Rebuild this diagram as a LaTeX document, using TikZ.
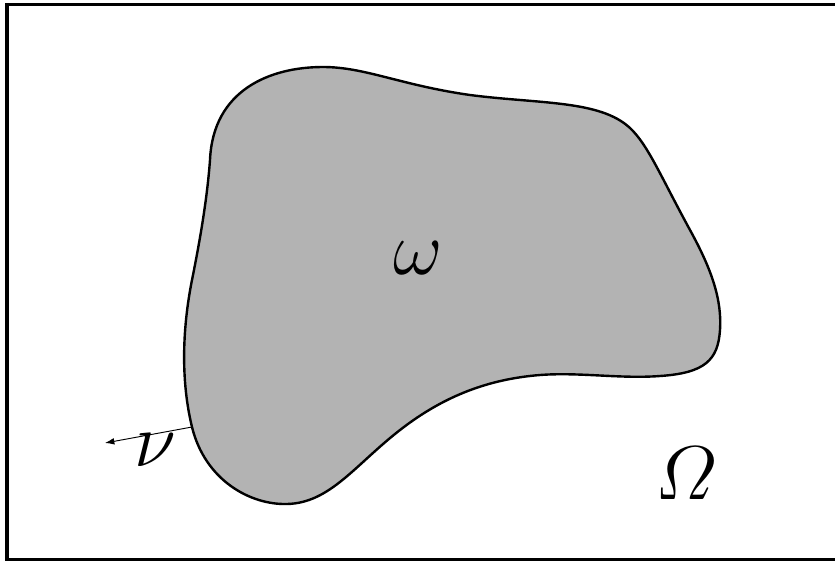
\documentclass[tikz,border=0pt]{standalone}
\usepackage{amsmath}
\usetikzlibrary{arrows.meta}
\definecolor{blobgray}{RGB}{179,179,179}
\tikzset{
  frame/.style={line width=2.3pt},
  blob/.style={fill=blobgray,draw=black,line width=1.8pt},
  normalarrow/.style={line width=0.7pt,-{Latex[length=7pt,width=5pt]}},
  biglabel/.style={inner sep=0pt,scale=2.3,font=\Huge}
}
\begin{document}
\begin{tikzpicture}[x=0.75pt,y=-0.75pt]
\useasboundingbox (0,0) rectangle (835,561);
\draw[frame] (7,4.5) rectangle (845,559.5);
\draw[blob] (323,67) .. controls (365,67) and (400,85) .. (470,95)
  .. controls (540,104) and (600,100) .. (630,128)
  .. controls (648,145) and (660,175) .. (690,230)
  .. controls (712,270) and (722,300) .. (720,330)
  .. controls (718,360) and (705,373) .. (660,376)
  .. controls (620,379) and (580,372) .. (540,375)
  .. controls (490,379) and (445,395) .. (400,430)
  .. controls (355,465) and (330,503) .. (287,504)
  .. controls (250,505) and (205,480) .. (192,427) coordinate (nstart)
  .. controls (181,382) and (182,330) .. (192,280)
  .. controls (200,240) and (207,200) .. (210,160)
  .. controls (213,90) and (270,67) .. (323,67) -- cycle;
\coordinate (nend) at (105,443);
\draw[normalarrow] (nstart) -- (nend);
\node[biglabel] (nu) at (155,450) {$\nu$};
\node[biglabel] (omega) at (418,258) {$\omega$};
\node[biglabel] (Omega) at (686,473) {$\varOmega$};
\end{tikzpicture}
\end{document}
